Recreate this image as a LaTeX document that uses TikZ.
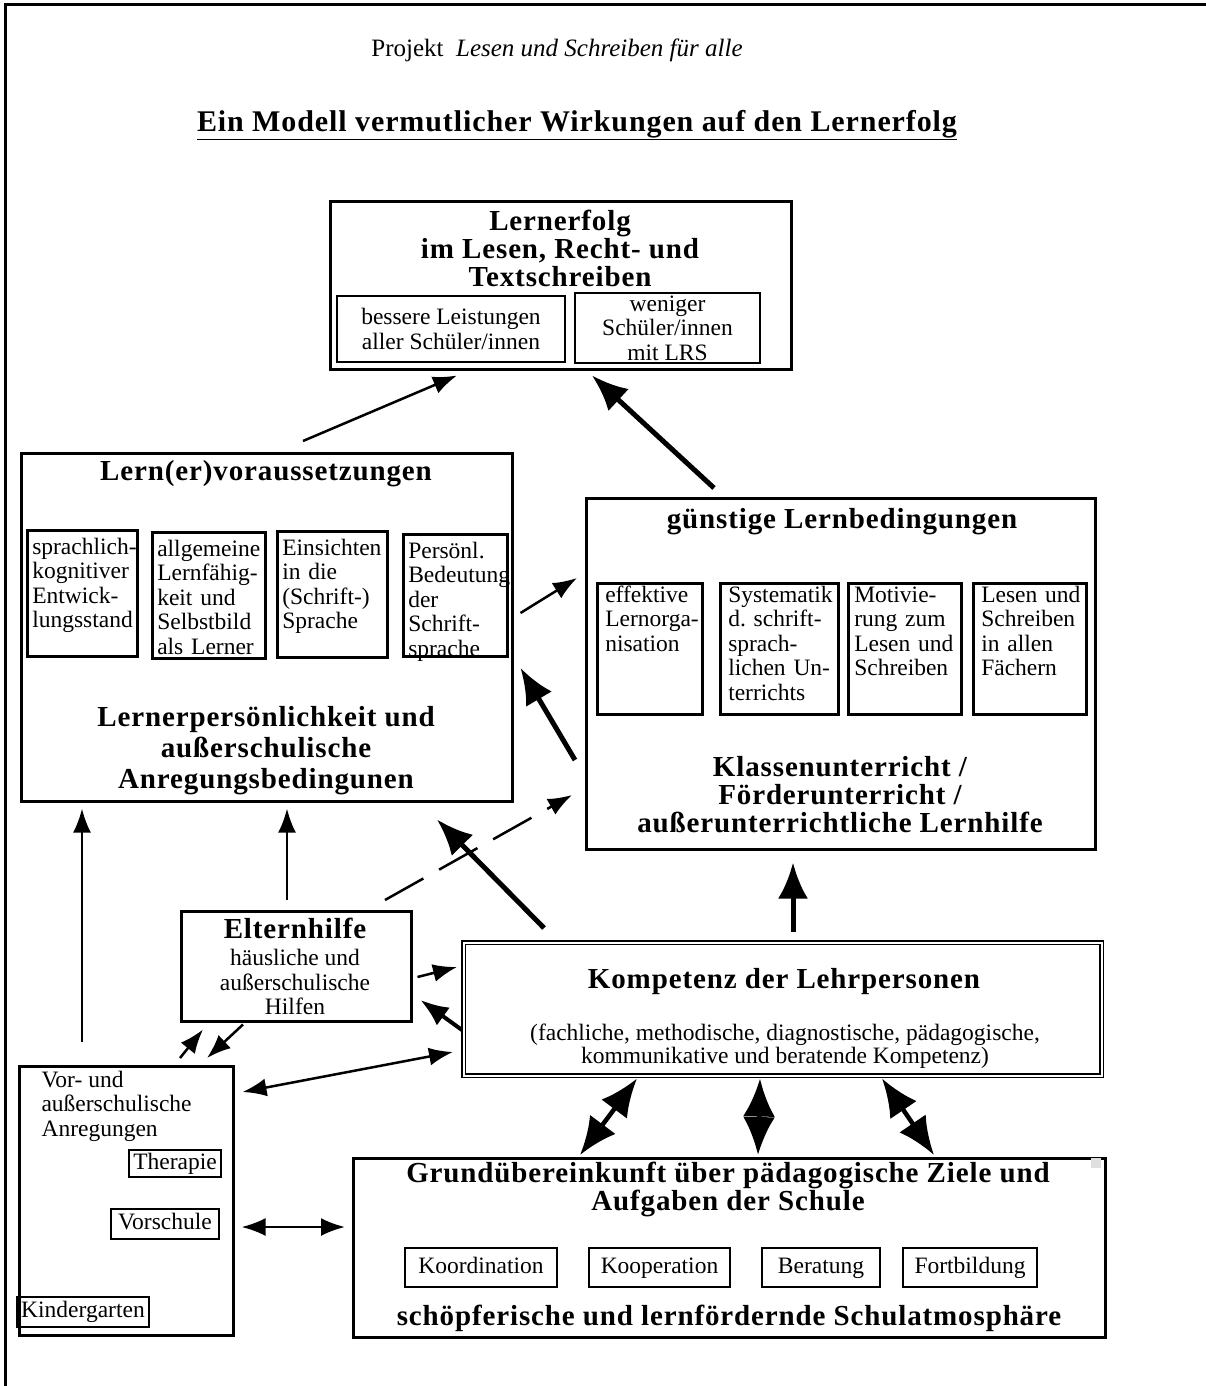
\documentclass[tikz,border=0pt]{standalone}
\usepackage{fontspec}
\setmainfont{Liberation Serif}
\newfontfamily\spacedserif[LetterSpace=3]{Liberation Serif}
\newcommand{\bodysize}{\fontsize{23.5}{24.5}\selectfont}
\newcommand{\headsize}{\fontsize{29}{28}\selectfont}
\usetikzlibrary{arrows.meta,calc}

\begin{document}
\begin{tikzpicture}[x=1pt, y=-1pt,
    box/.style={draw, line width=2.5pt, inner sep=0pt, anchor=north west},
    sub/.style={draw, line width=2.5pt, anchor=north west, align=left, font=\bodysize, text height=16pt, inner xsep=5pt, inner ysep=8pt,
        execute at begin node={\exhyphenpenalty=10000 \hyphenpenalty=10000}},
    tag/.style={draw, line width=2.5pt, font=\bodysize, align=center, inner sep=2pt, text height=16pt, text depth=5pt},
    head/.style={font=\spacedserif\bfseries\headsize, align=center},
    body/.style={font=\bodysize, align=center},
    arrow/.style={-{Latex[length=24pt, width=18pt]}, line width=2.5pt},
    midarrow/.style={-{Latex[length=28pt, width=22pt]}, line width=4pt},
    bigarrow/.style={-{Latex[length=36pt, width=30pt]}, line width=5pt},
    twoway/.style={{Latex[length=24pt, width=18pt]}-{Latex[length=24pt, width=18pt]}, line width=2.5pt},
    bigtwoway/.style={{Latex[length=38pt, width=32pt]}-{Latex[length=38pt, width=32pt]}, line width=4.5pt},
    dashpat/.style={dash pattern=on 44pt off 18pt}
]
    \useasboundingbox (0,0) rectangle (1206,1386);
    \draw[line width=3pt] (5,1386) -- (5,5) -- (1206,5);

    % Header
    \node[font=\fontsize{25}{28}\selectfont] (projekt) at (557,50) {Projekt \ \textit{Lesen und Schreiben für alle}};
    \node[head, font=\spacedserif\bfseries\fontsize{30}{28}\selectfont] (modell) at (577,125) {\underline{Ein Modell vermutlicher Wirkungen auf den Lernerfolg}};

    % Top level
    \node[box, minimum width=461pt, minimum height=168pt] (erfolg) at (329,200) {};
    \node[head] (erfolgtitle) at (560,248) {Lernerfolg\\im Lesen, Recht- und\\Textschreiben};
    \node[tag, minimum width=228pt, minimum height=66pt, text height=, text depth=] (besser) at (451,329) {bessere Leistungen\\aller Schüler/innen};
    \node[tag, minimum width=185pt, minimum height=70pt, text height=, text depth=] (weniger) at (667.5,328) {weniger\\Schüler/innen\\mit LRS};

    % Second level
    \node[box, minimum width=491pt, minimum height=348pt] (lern) at (20,452) {};
    \node[head] (lerntitle) at (266,474) {Lern(er)voraussetzungen};
    \node[sub, text width=100pt, text depth=94pt] (lv1) at (26,529) {sprachlich-\\kognitiver\\Entwick-\\lungsstand};
    \node[sub, text width=103pt, text depth=94pt] (lv2) at (151,531) {allgemeine\\Lernfähig-\\keit~und\\Selbstbild\\als~Lerner};
    \node[sub, text width=100pt, text depth=94pt] (lv3) at (276,530) {Einsichten\\in~die\\(Schrift-)\\Sprache};
    \node[sub, text width=94pt, text depth=90pt] (lv4) at (402,533) {Persönl.\\Bedeutung\\der\\Schrift-\\sprache};
    \node[head, font=\spacedserif\bfseries\fontsize{29}{31}\selectfont] (lernfoot) at (266,751) {Lernerpersönlichkeit und\\außerschulische\\Anregungsbedingunen};

    \node[box, minimum width=509pt, minimum height=351pt] (guenstig) at (585,497) {};
    \node[head] (guenstigtitle) at (842,522) {günstige Lernbedingungen};
    \node[sub, inner xsep=8pt, inner ysep=3pt, text width=89pt, text depth=109pt] (gb1) at (596,582) {effektive\\Lernorga-\\nisation};
    \node[sub, inner xsep=8pt, inner ysep=3pt, text width=102pt, text depth=109pt] (gb2) at (719,582) {Systematik\\d.~schrift-\\sprach-\\lichen~Un-\\terrichts};
    \node[sub, inner xsep=6pt, inner ysep=3pt, text width=101pt, text depth=109pt] (gb3) at (847,582) {Motivie-\\rung~zum\\Lesen~und\\Schreiben};
    \node[sub, inner xsep=8pt, inner ysep=3pt, text width=97pt, text depth=109pt] (gb4) at (972,582) {Lesen~und\\Schreiben\\in~allen\\Fächern};
    \node[head] (guenstigfoot) at (840,795) {Klassenunterricht /\\Förderunterricht /\\außerunterrichtliche Lernhilfe};

    % Third level
    \node[box, minimum width=230pt, minimum height=110pt] (eltern) at (180,910) {};
    \node[head] (elterntitle) at (295,928) {Elternhilfe};
    \node[body] (elterntext) at (295,982) {häusliche und\\außerschulische\\Hilfen};

    \node[box, double, line width=1.5pt, double distance=2pt, minimum width=638pt, minimum height=133pt] (kompetenz) at (463,942) {};
    \node[head] (kompetenztitle) at (784,982) {Kompetenz der Lehrpersonen};
    \node[body, font=\fontsize{23.5}{22.5}\selectfont] (kompetenztext) at (785,1046) {(fachliche, methodische, diagnostische, pädagogische,\\kommunikative und beratende Kompetenz)};

    % Bottom level
    \node[box, minimum width=214pt, minimum height=269pt] (vor) at (18,1065) {};
    \node[body, align=left, anchor=west] (vortext) at (38,1106) {Vor- und\\außerschulische\\Anregungen};
    \node[tag, minimum width=92pt, minimum height=27pt] (therapie) at (175,1163.5) {Therapie};
    \node[tag, minimum width=108pt, minimum height=30pt] (vorschule) at (165,1224) {Vorschule};
    \node[tag, minimum width=132pt, minimum height=30pt] (kindergarten) at (83,1312) {Kindergarten};

    \node[box, minimum width=752pt, minimum height=179pt] (grund) at (352,1157) {};
    \fill[gray!25] (1091,1158) rectangle (1101,1168);
    \node[head] (grundtitle) at (728,1189) {Grundübereinkunft über pädagogische Ziele und\\Aufgaben der Schule};
    \node[tag, minimum width=152pt, minimum height=39pt] (koord) at (481,1267.5) {Koordination};
    \node[tag, minimum width=141pt, minimum height=39pt] (koop) at (659.5,1267.5) {Kooperation};
    \node[tag, minimum width=118pt, minimum height=39pt] (berat) at (821,1267.5) {Beratung};
    \node[tag, minimum width=134pt, minimum height=39pt] (fortb) at (970,1267.5) {Fortbildung};
    \node[head] (grundfoot) at (729,1318) {schöpferische und lernfördernde Schulatmosphäre};

    % Arrows
    \draw[arrow] ($(lern.north west)+(283,-11)$) -- ($(erfolg.south west)+(128,5)$);
    \draw[bigarrow] ($(guenstig.north west)+(129,-9)$) -- ($(erfolg.south west)+(263,5)$);
    \draw[arrow] ($(lern.north east)+(7,161)$) -- ($(guenstig.north west)+(-8,81)$);
    \draw[bigarrow] ($(guenstig.north west)+(-10,263)$) -- ($(lern.north east)+(7,216)$);
    \draw[bigarrow] ($(kompetenz.north west)+(81,-14)$) -- ($(lern.south west)+(417,17)$);
    \draw[arrow, dashpat] ($(eltern.north west)+(205,-10)$) -- ($(guenstig.north west)+(-13,298)$);
    \draw[bigarrow] ($(kompetenz.north west)+(330,-10)$) -- ($(guenstig.south west)+(208,12)$);
    \draw[arrow] ($(vor.north west)+(64,-23)$) -- ($(lern.south west)+(62,6)$);
    \draw[arrow] ($(eltern.north west)+(107,-10)$) -- ($(lern.south west)+(267,6)$);
    \draw[arrow] ($(eltern.north east)+(5,67)$) -- ($(kompetenz.north west)+(-6,25)$);
    \draw[midarrow] ($(kompetenz.north west)+(-1,88)$) -- ($(eltern.north east)+(8,90)$);
    \draw[arrow] ($(vor.north west)+(162,-7)$) -- ($(eltern.south west)+(23,7)$);
    \draw[arrow] ($(eltern.south west)+(63,2)$) -- ($(vor.north west)+(189,-7)$);
    \draw[twoway] ($(vor.north east)+(8,27)$) -- ($(kompetenz.north west)+(-10,110)$);
    \draw[twoway] ($(vor.north east)+(7,162)$) -- ($(grund.north west)+(-7,70)$);
    \draw[bigtwoway] ($(kompetenz.south west)+(174,2)$) -- ($(grund.north west)+(228,-2)$);
    \draw[bigtwoway] ($(kompetenz.south west)+(297,2)$) -- ($(grund.north west)+(406,-2)$);
    \draw[bigtwoway] ($(kompetenz.south west)+(419,2)$) -- ($(grund.north west)+(582,-2)$);
\end{tikzpicture}
\end{document}
